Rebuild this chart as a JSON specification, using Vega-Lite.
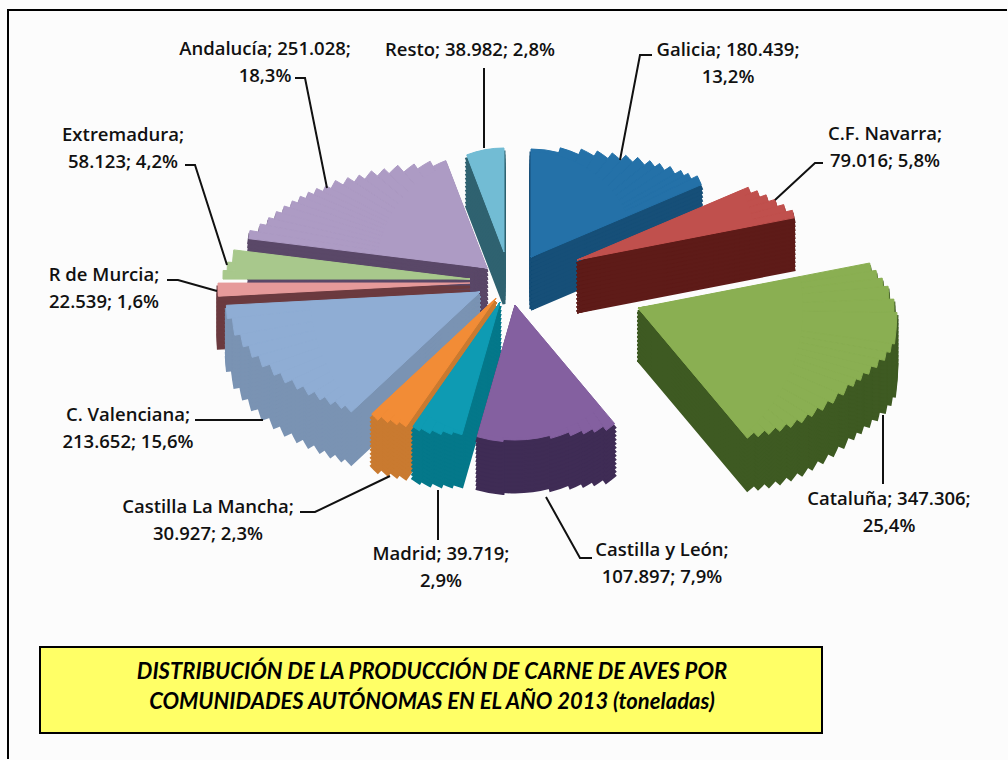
{"$schema":"https://vega.github.io/schema/vega-lite/v6.json","width":1008,"height":760,"padding":0,"autosize":{"type":"fit","contains":"padding"},"background":"#fcfcfc","config":{"view":{"stroke":null}},
"datasets":{"slices":[
{"id":1,"name":"Galicia","value":180439,"pct":13.2,"label":"Galicia; 180.439;\n13,2%"},
{"id":2,"name":"C.F. Navarra","value":79016,"pct":5.8,"label":"C.F. Navarra;\n79.016; 5,8%"},
{"id":3,"name":"Cataluña","value":347306,"pct":25.4,"label":"Cataluña; 347.306;\n25,4%"},
{"id":4,"name":"Castilla y León","value":107897,"pct":7.9,"label":"Castilla y León;\n107.897; 7,9%"},
{"id":5,"name":"Madrid","value":39719,"pct":2.9,"label":"Madrid; 39.719;\n2,9%"},
{"id":6,"name":"Castilla La Mancha","value":30927,"pct":2.3,"label":"Castilla La Mancha;\n30.927; 2,3%"},
{"id":7,"name":"C. Valenciana","value":213652,"pct":15.6,"label":"C. Valenciana;\n213.652; 15,6%"},
{"id":8,"name":"R de Murcia","value":22539,"pct":1.6,"label":"R de Murcia;\n22.539; 1,6%"},
{"id":9,"name":"Extremadura","value":58123,"pct":4.2,"label":"Extremadura;\n58.123; 4,2%"},
{"id":10,"name":"Andalucía","value":251028,"pct":18.3,"label":"Andalucía; 251.028;\n18,3%"},
{"id":11,"name":"Resto","value":38982,"pct":2.8,"label":"Resto; 38.982; 2,8%"}
],
"outline":[{"id":9,"a":78,"b":79},{"id":9,"a":79,"b":80},{"id":9,"a":80,"b":81},
{"id":10,"a":82,"b":83},{"id":10,"a":83,"b":84},{"id":10,"a":84,"b":85},{"id":10,"a":85,"b":86},{"id":10,"a":86,"b":87},{"id":10,"a":87,"b":88},{"id":10,"a":88,"b":89},{"id":10,"a":89,"b":90},{"id":10,"a":90,"b":91},{"id":10,"a":91,"b":92},{"id":10,"a":92,"b":93},{"id":10,"a":93,"b":94},{"id":10,"a":94,"b":95},{"id":10,"a":95,"b":96},{"id":10,"a":96,"b":97},{"id":10,"a":97,"b":98},{"id":10,"a":98,"b":99},{"id":10,"a":99,"b":100},{"id":10,"a":100,"b":101},
{"id":8,"a":102,"b":103},{"id":11,"a":104,"b":105},
{"id":1,"a":1,"b":2},{"id":1,"a":2,"b":3},{"id":1,"a":3,"b":4},{"id":1,"a":4,"b":5},{"id":1,"a":5,"b":6},{"id":1,"a":6,"b":7},{"id":1,"a":7,"b":8},{"id":1,"a":8,"b":9},{"id":1,"a":9,"b":10},{"id":1,"a":10,"b":11},{"id":1,"a":11,"b":12},{"id":1,"a":12,"b":13},{"id":1,"a":13,"b":14},
{"id":2,"a":15,"b":16},{"id":2,"a":16,"b":17},{"id":2,"a":17,"b":18},{"id":2,"a":18,"b":19},{"id":2,"a":19,"b":20},{"id":2,"a":20,"b":21},
{"id":3,"a":22,"b":23},{"id":3,"a":23,"b":24},{"id":3,"a":24,"b":25},{"id":3,"a":25,"b":26},{"id":3,"a":26,"b":27},{"id":3,"a":27,"b":28},{"id":3,"a":28,"b":29},{"id":3,"a":29,"b":30},{"id":3,"a":30,"b":31},{"id":3,"a":31,"b":32},{"id":3,"a":32,"b":33},{"id":3,"a":33,"b":34},{"id":3,"a":34,"b":35},{"id":3,"a":35,"b":36},{"id":3,"a":36,"b":37},{"id":3,"a":37,"b":38},{"id":3,"a":38,"b":39},{"id":3,"a":39,"b":40},{"id":3,"a":40,"b":41},{"id":3,"a":41,"b":42},{"id":3,"a":42,"b":43},{"id":3,"a":43,"b":44},
{"id":7,"a":64,"b":65},{"id":7,"a":65,"b":66},{"id":7,"a":66,"b":67},{"id":7,"a":67,"b":68},{"id":7,"a":68,"b":69},{"id":7,"a":69,"b":70},{"id":7,"a":70,"b":71},{"id":7,"a":71,"b":72},{"id":7,"a":72,"b":73},{"id":7,"a":73,"b":74},{"id":7,"a":74,"b":75},{"id":7,"a":75,"b":76},{"id":7,"a":76,"b":77},
{"id":6,"a":59,"b":60},{"id":6,"a":60,"b":61},{"id":6,"a":61,"b":62},{"id":6,"a":62,"b":63},
{"id":5,"a":53,"b":54},{"id":5,"a":54,"b":55},{"id":5,"a":55,"b":56},{"id":5,"a":56,"b":57},{"id":5,"a":57,"b":58},
{"id":4,"a":45,"b":46},{"id":4,"a":46,"b":47},{"id":4,"a":47,"b":48},{"id":4,"a":48,"b":49},{"id":4,"a":49,"b":50},{"id":4,"a":50,"b":51},{"id":4,"a":51,"b":52}
]},
"layer":[
{"data":{"values":[{"p":1},{"p":2},{"p":3}]},"mark":{"type":"line","stroke":"#000","strokeWidth":2},"encoding":{"order":{"field":"p"},"x":{"field":"p","type":"quantitative","axis":null,"scale":{"domain":[1,2,3],"range":[1007,8,8]}},"y":{"field":"p","type":"quantitative","axis":null,"scale":{"domain":[1,2,3],"range":[10,10,759]}}}},
{"data":{"values":[{"from":0,"to":1}]},"mark":{"type":"rect","fill":"#ffff66","stroke":"#000","strokeWidth":2},"encoding":{"x":{"field":"from","type":"quantitative","axis":null,"scale":{"domain":[0,1],"range":[40,822]}},"x2":{"field":"to"},"y":{"field":"from","type":"quantitative","axis":null,"scale":{"domain":[0,1],"range":[647,733]}},"y2":{"field":"to"}}},
{"encoding":{"x":{"field":"id","type":"quantitative","axis":null,"scale":{"domain":[1,2,3,4,5,6,7,8,9,10,11],"range":[531,577,638,515,500,496,480,470,470,487,504]}},"y":{"field":"id","type":"quantitative","axis":null,"scale":{"domain":[1,2,3,4,5,6,7,8,9,10,11],"range":[257,260,308,305,302,298,292,283,279,268,252]}},"radius2":{"value":0}},
"resolve":{"scale":{"theta":"independent","radius":"independent"}},
"layer":[
{"data":{"name":"outline"},"encoding":{"theta":{"field":"a","type":"quantitative","scale":{"domain":[1,2,3,4,5,6,7,8,9,10,11,12,13,14,15,16,17,18,19,20,21,22,23,24,25,26,27,28,29,30,31,32,33,34,35,36,37,38,39,40,41,42,43,44,45,46,47,48,49,50,51,52,53,54,55,56,57,58,59,60,61,62,63,64,65,66,67,68,69,70,71,72,73,74,75,76,77,78,79,80,81,82,83,84,85,86,87,88,89,90,91,92,93,94,95,96,97,98,99,100,101,102,103,104,105],"range":[0,0.262,0.436,0.559,0.663,0.75,0.82,0.89,0.942,0.995,1.047,1.082,1.117,1.169,1.169,1.204,1.239,1.274,1.309,1.344,1.379,1.379,1.414,1.449,1.484,1.536,1.588,1.71,1.745,1.78,1.815,1.85,1.885,1.92,1.972,2.025,2.077,2.129,2.182,2.234,2.286,2.339,2.391,2.443,2.443,2.513,2.583,2.653,2.74,2.88,3.229,3.421,3.421,3.491,3.56,3.63,3.7,3.752,3.752,3.805,3.857,3.91,3.962,3.962,4.014,4.067,4.119,4.171,4.224,4.276,4.328,4.381,4.433,4.485,4.538,4.608,4.66,4.712,4.747,4.782,4.835,4.835,4.869,4.904,4.939,4.974,5.009,5.044,5.079,5.114,5.149,5.184,5.236,5.288,5.341,5.411,5.48,5.568,5.672,5.794,5.917,4.66,4.712,5.917,6.283]}},"theta2":{"field":"b"},"radius":{"field":"a","type":"quantitative","scale":{"type":"linear","domain":[1,2,3,4,5,6,7,8,9,10,11,12,13,14,15,16,17,18,19,20,21,22,23,24,25,26,27,28,29,30,31,32,33,34,35,36,37,38,39,40,41,42,43,44,45,46,47,48,49,50,51,52,53,54,55,56,57,58,59,60,61,62,63,64,65,66,67,68,69,70,71,72,73,74,75,76,77,78,79,80,81,82,83,84,85,86,87,88,89,90,91,92,93,94,95,96,97,98,99,100,101,102,103,104,105],"range":[108,113,119,125,132,139,146,153,159,166,173,178,185,185,186,193,200,207,214,221,221,236,241,246,251,256,259,256,252,246,240,234,229,223,217,211,205,200,194,188,182,176,170,170,155,150,146,142,138,135,137,137,138,141,145,149,152,152,157,161,165,170,170,176,181,187,193,200,207,215,222,230,237,243,249,254,254,247,243,238,238,240,231,224,218,212,206,200,194,188,181,175,166,158,151,143,136,127,121,115,115,252,252,104,104]}}},
"layer":[
{"transform":[{"filter":"datum.id != 9"}],"encoding":{"fill":{"field":"id","type":"nominal","legend":null,"scale":{"domain":[1,2,3,4,5,6,7,8,9,10,11],"range":["#164f78","#5e1b18","#3e5a22","#3f2c55","#04788a","#c97a30","#7a93b3","#6b3a3f","#5d7040","#5a4868","#2f6270"]}},"stroke":{"field":"id","type":"nominal","legend":null,"scale":{"domain":[1,2,3,4,5,6,7,8,9,10,11],"range":["#164f78","#5e1b18","#3e5a22","#3f2c55","#04788a","#c97a30","#7a93b3","#6b3a3f","#5d7040","#5a4868","#2f6270"]}}},"layer":[{"mark":{"type":"arc","strokeWidth":3,"yOffset":52}},{"mark":{"type":"arc","strokeWidth":3,"yOffset":48}},{"mark":{"type":"arc","strokeWidth":3,"yOffset":44}},{"mark":{"type":"arc","strokeWidth":3,"yOffset":40}},{"mark":{"type":"arc","strokeWidth":3,"yOffset":36}},{"mark":{"type":"arc","strokeWidth":3,"yOffset":32}},{"mark":{"type":"arc","strokeWidth":3,"yOffset":28}},{"mark":{"type":"arc","strokeWidth":3,"yOffset":24}},{"mark":{"type":"arc","strokeWidth":3,"yOffset":20}},{"mark":{"type":"arc","strokeWidth":3,"yOffset":16}},{"mark":{"type":"arc","strokeWidth":3,"yOffset":12}},{"mark":{"type":"arc","strokeWidth":3,"yOffset":8}},{"mark":{"type":"arc","strokeWidth":3,"yOffset":4}}]},
{"encoding":{"color":{"field":"id","type":"nominal","legend":null,"scale":{"domain":[1,2,3,4,5,6,7,8,9,10,11],"range":["#2471a8","#c0504d","#8aaf52","#8460a0","#0e9bb3","#f28c36","#8fadd4","#e69a9a","#a8c88c","#ad9bc4","#72bcd4"]}}},"layer":[{"mark":{"type":"arc"}},{"mark":{"type":"arc","filled":false,"strokeWidth":1}}]}
]},
{"data":{"name":"slices"},"transform":[{"stack":"value","groupby":[],"sort":[{"field":"id"}],"as":["v0","v1"]}],"mark":{"type":"arc"},"encoding":{"color":{"field":"id","type":"nominal","legend":null},"theta":{"field":"v0","type":"quantitative","scale":{"domain":[0,180439,259455,606761,714658,754377,785304,998956,1021495,1079618,1330646,1369628],"range":[0,1.169,1.379,2.443,3.421,3.752,3.962,4.66,4.712,4.835,5.917,6.283]}},"theta2":{"field":"v1"},"radius":{"field":"id","type":"quantitative","scale":{"type":"linear","domain":[1,2,3,4,5,6,7,8,9,10,11],"range":[105,180,165,133,135,155,170,252,235,110,104]}}}}
]},
{"data":{"values":[{"leader":"Galicia","k":1},{"leader":"Galicia","k":2},{"leader":"Galicia","k":3},{"leader":"C.F. Navarra","k":4},{"leader":"C.F. Navarra","k":5},{"leader":"C.F. Navarra","k":6},{"leader":"Cataluña","k":7},{"leader":"Cataluña","k":8},{"leader":"Castilla y León","k":9},{"leader":"Castilla y León","k":10},{"leader":"Castilla y León","k":11},{"leader":"Madrid","k":12},{"leader":"Madrid","k":13},{"leader":"Castilla La Mancha","k":14},{"leader":"Castilla La Mancha","k":15},{"leader":"Castilla La Mancha","k":16},{"leader":"C. Valenciana","k":17},{"leader":"C. Valenciana","k":18},{"leader":"R de Murcia","k":19},{"leader":"R de Murcia","k":20},{"leader":"R de Murcia","k":21},{"leader":"Extremadura","k":22},{"leader":"Extremadura","k":23},{"leader":"Extremadura","k":24},{"leader":"Andalucía","k":25},{"leader":"Andalucía","k":26},{"leader":"Andalucía","k":27},{"leader":"Resto","k":28},{"leader":"Resto","k":29}]},"mark":{"type":"line","stroke":"#111","strokeWidth":2},"encoding":{"detail":{"field":"leader"},"order":{"field":"k"},"x":{"field":"k","type":"quantitative","axis":null,"scale":{"domain":[1,2,3,4,5,6,7,8,9,10,11,12,13,14,15,16,17,18,19,20,21,22,23,24,25,26,27,28,29],"range":[620,640,652,775,815,823,883,883,546,580,592,438,438,390,315,300,263,195,217,178,167,227,195,185,327,305,295,484,484]}},"y":{"field":"k","type":"quantitative","axis":null,"scale":{"domain":[1,2,3,4,5,6,7,8,9,10,11,12,13,14,15,16,17,18,19,20,21,22,23,24,25,26,27,28,29],"range":[160,55,55,200,163,163,415,484,497,558,558,490,540,476,512,512,420,420,291,280,280,265,165,165,188,78,78,148,68]}}}},
{"data":{"name":"slices"},"mark":{"type":"text","font":"Open Sans","fontWeight":600,"fontSize":18.5,"lineHeight":27,"lineBreak":"\n","align":"center","baseline":"middle","fill":"#111"},"encoding":{"text":{"field":"label"},"x":{"field":"id","type":"quantitative","axis":null,"scale":{"domain":[1,2,3,4,5,6,7,8,9,10,11],"range":[728,885,889,662,441,208,128,104,123,265,470]}},"y":{"field":"id","type":"quantitative","axis":null,"scale":{"domain":[1,2,3,4,5,6,7,8,9,10,11],"range":[50,134,499,550,554,507,415,275,135,49,50]}}}},
{"data":{"values":[{"pos":0,"title":"DISTRIBUCIÓN DE LA PRODUCCIÓN DE CARNE DE AVES POR\nCOMUNIDADES AUTÓNOMAS EN EL AÑO 2013 (toneladas)"}]},"mark":{"type":"text","font":"Lato","fontStyle":"italic","fontWeight":"bold","fontSize":22,"lineHeight":30,"lineBreak":"\n","align":"center","baseline":"middle","fill":"#000"},"encoding":{"text":{"field":"title"},"x":{"field":"pos","type":"quantitative","axis":null,"scale":{"domain":[0,1],"range":[432,433]}},"y":{"field":"pos","type":"quantitative","axis":null,"scale":{"domain":[0,1],"range":[672,673]}}}}
],
"resolve":{"scale":{"x":"independent","y":"independent"}}}
